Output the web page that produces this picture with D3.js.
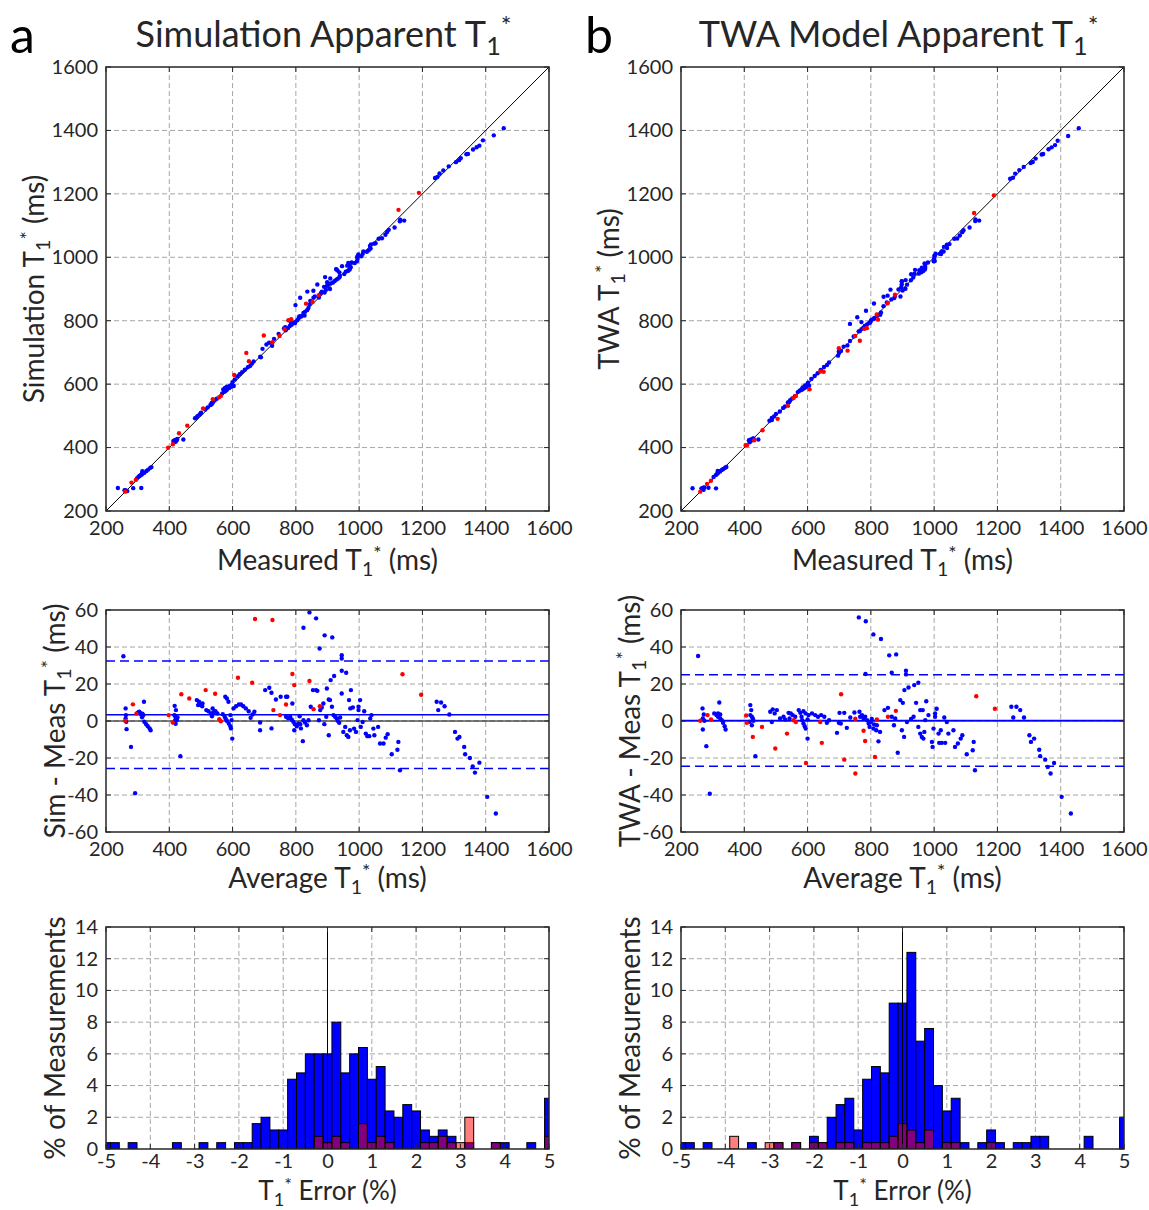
<!DOCTYPE html>
<html>
<head>
<meta charset="utf-8">
<script src="https://cdn.jsdelivr.net/npm/d3@7"></script>
<style>
  body { margin: 0; background: #fff; }
  svg { display: block; }
</style>
</head>
<body>
<svg id="fig" width="1149" height="1210"></svg>
<script>
// Bland-Altman points: [average T1* (ms), difference (ms)]
const simBlue = [
  [255,35],[262,6.8],[263,3.2],[262,1.4],[264,-0.4],[265,-4.4],[279,-14],[292,-39],
  [305,5],[308,4.4],[315,4],[318,3.2],[314,2],[320,10.4],[321,-0.4],[327,-1.7],[332,-2.8],[338,-4],[341,-5],[311,3.5],[300,4.5],
  [417,8.2],[421,5.9],[416,3.2],[419,2.3],[422,1.4],[424,0.5],[418,0.1],[426,1.9],[420,-1.5],[435,-19],
  [487,11.3],[494,10.4],[500,8.6],[504,8],[491,8.6],[505,9.5],
  [517,5.9],[524,5.3],[532,4.1],[535,2.6],[540,4.8],[546,5.3],[552,4.1],[537,6.8],
  [577,13.1],[582,12.2],[587,10.4],[569,3.7],[575,2.3],[578,1.2],[582,0.1],[588,-1.4],[593,-2.8],[595,-4],[599,-9.5],
  [597,0.5],[593,3.2],[603,6.8],[611,8],[620,8.9],[627,8.9],[634,8],[642,6.8],[651,5.3],[657,1.7],[663,3.5],[669,5],
  [687,-0.8],[687,-5],[703,16.7],[716,18],[723,15.3],[723,-4],[737,11.6],[752,13.1],[769,13.1],[773,13.1],
  [769,2.3],[776,1.4],[782,2.3],[787,0.8],[792,-0.4],[797,-1.7],[803,-2.8],[808,-1.4],[795,-5],[814,-1.7],[816,-4],[822,-10.9],[789,9.5],
  [843,58.7],[824,50.4],[864,55.5],[891,46.3],[915,45.2],[875,39.2],[945,35.6],[945,33.8],
  [812,2.6],[824,0.4],[829,-0.8],[835,-2.3],[840,0.4],[847,7.7],[854,16.7],[864,16.7],[868,16.3],[877,5.9],[882,7.3],[887,9.5],
  [873,0.4],[890,-1.7],[896,2.3],[898,17.6],[904,11.6],[908,11.3],[910,22.1],[921,24.3],[904,-7.7],[914,7.7],[919,3.2],
  [924,2.3],[929,1.4],[932,0.1],[937,-1],[940,1.9],[945,27.2],[959,26.1],[945,14.9],[950,-5.9],[956,-3.2],[961,-7.7],
  [966,-8.6],[971,-5],[968,11.3],[974,16.7],[972,6.8],[980,7.3],[984,-4.1],[990,-5.9],[995,0.5],[998,7.7],[998,5.9],
  [1003,11.3],[1005,-3.2],[1011,-0.5],[1016,5.3],[1021,-6.8],[1026,-8.2],[1032,-8.2],[1035,1.4],[1039,3.2],[1045,-4.1],
  [1048,-7.7],[1060,-3.2],[1066,-12.2],[1077,-12.2],[1084,-9],[1090,-7.1],[1103,-18],[1121,-15.5],[1124,-11.3],[1129,-26.6],
  [1245,10.4],[1250,5.9],[1259,10],[1270,8],[1285,3.5],[1303,-5.9],[1311,-9.5],[1317,-8.6],[1332,-14],[1335,-18],
  [1350,-20],[1359,-24.5],[1366,-27.9],[1380,-22.5],[1405,-41],[1432,-50]
];
const simRed = [
  [261,0.1],[285,9],[296,4],[398,3.2],[411,-0.8],[438,14.5],[463,12.2],[515,16.7],[545,14.7],[558,1],[563,-0.1],
  [617,23.4],[662,20.7],[671,55.1],[726,54.6],[729,5.9],[750,3.2],[769,8.9],[789,25.4],[795,19.4],[843,21.6],
  [856,6.4],[876,8],[1137,25.3],[1196,14.2]
];
const twaBlue = [
  [254,35.1],[268,6.8],[272,3.5],[269,1.4],[274,0.1],[269,-4.6],[280,-13.6],[291,-39.3],
  [305,4.1],[312,3.2],[317,2.3],[321,10],[324,1.4],[329,0.5],[333,-1],[338,-2.8],[341,-4.6],[317,4.1],[324,3.5],
  [419,8.6],[422,5.9],[419,3.2],[424,2.3],[427,1.4],[417,-0.4],[424,-2.3],[429,0.1],[435,-19],
  [482,5],[490,6.3],[496,4.1],[503,5.9],[487,-0.5],[513,1.4],[524,2.3],[529,0.8],[540,4.4],[547,4.1],[553,3.2],[561,2.3],[543,1.4],
  [572,5.9],[577,4.4],[581,2.3],[583,0.4],[587,-1.4],[591,-2.8],[594,-4.1],[600,-9.5],[600,0.8],[587,5.3],[594,4.1],
  [603,3.2],[614,4.1],[624,3.2],[633,2.3],[643,3.2],[653,2.3],
  [661,-1],[668,0.4],[693,-6.4],[699,-1],[701,4.4],[705,-1.4],[716,4.4],[724,-3.7],[735,1.9],[748,4.6],[764,5],[766,2.3],
  [772,3.2],[777,1.4],[782,2.3],[788,0.4],[793,-1.4],[796,-3.2],[800,-0.5],[803,1.1],[808,-4.1],[817,-5],[824,-11],
  [829,-5.9],[819,-2.3],[810,-1.9],
  [762,56],[784,53.9],[808,46.8],[832,44.3],[858,35.5],[880,36],[783,25.4],[866,26.1],[911,27.2],[911,25.2],
  [843,5.9],[854,7.1],[866,2.3],[873,-2.3],[877,1.4],[885,-17.2],[893,11.3],[901,9.8],[906,16.7],[919,18.1],[927,1.1],
  [935,2.3],[937,19.4],[950,20.7],[943,9.8],[898,-5],[905,-8.6],[914,-0.5],
  [956,5.9],[964,5.9],[950,-3.2],[956,-6.8],[961,-8.6],[966,-9.5],[969,-5.9],[975,10.7],[972,0.5],[982,3.2],[993,-11.3],
  [995,-14],[998,-4.1],[1003,4.1],[1003,2.3],[1008,6.6],[1014,-6.8],[1016,-11.8],[1021,-5],[1024,-11.8],[1032,1.9],
  [1035,-11.8],[1040,-0.5],[1045,-6.8],[1061,-5],[1066,-14],[1075,-12.2],[1084,-9.5],[1089,-7.7],[1103,-18],[1122,-15.8],
  [1125,-11.3],[1129,-26.6],
  [1244,7.7],[1250,1.9],[1260,7.7],[1272,5.9],[1284,1.9],[1301,-7.7],[1306,-11.3],[1316,-9.5],[1332,-15.5],[1335,-19],
  [1351,-20.9],[1359,-24.8],[1368,-28.4],[1379,-22.7],[1403,-41],[1432,-50]
];
const twaRed = [
  [261,0.1],[284,3.2],[295,0.8],[406,3],[408,-1],[427,-8.6],[456,-3.2],[498,-14.9],[535,-6.8],[556,0.4],[563,-0.5],
  [595,-22.7],[640,-0.5],[645,-11.8],[706,14.5],[716,-20.9],[751,-28.4],[751,1.2],[777,-5.3],[782,-10.8],[813,-19.4],
  [819,0.8],[854,2.3],[879,5.5],[1133,13.4],[1192,6.6]
];

// bias and limits of agreement (ms)
const simBias = 3.4, simLimits = [-25.7, 32.5];
const twaBias = 0.3, twaLimits = [-24.4, 25.0];

// histograms of T1* error, bins 0.2 % wide centred on -5 ... 5
const errCenters = d3.range(51).map(i => -5 + i * 0.2);
const histSimBlue = [0.4,0.4,0,0.4,0,0,0,0,0.4,0,0,0.4,0,0.4,0,0.4,0.4,1.6,2.0,1.2,1.2,4.4,4.8,6.0,6.0,6.0,
  8.0,4.8,6.0,6.4,4.4,5.2,2.4,2.0,2.8,2.4,1.2,0.8,1.2,0.8,0,0.4,0,0,0.4,0.4,0,0,0.4,0,3.2];
const histSimRed = [0,0,0,0,0,0,0,0,0,0,0,0,0,0,0,0,0,0,0,0,0,0,0,0,0.8,0.4,
  0.8,0.4,0,1.6,0.4,0.8,0.4,0,0,0,0.4,0.4,0.8,0.4,0.4,2.0,0,0,0.4,0,0,0,0,0,0.8];
const histTwaBlue = [0.4,0.4,0,0.4,0,0,0,0,0.4,0,0,0.4,0,0.4,0,0.8,0.4,2.0,2.8,3.2,1.2,4.4,5.2,4.8,9.2,9.2,
  12.4,6.8,7.6,4.0,2.4,3.2,0.4,0,0.4,1.2,0.4,0,0.4,0.4,0.8,0.8,0,0,0,0,0.8,0,0,0,2.0];
const histTwaRed = [0,0,0,0,0,0,0.8,0,0,0,0.4,0.4,0,0.4,0,0.4,0.4,0,0.4,0.4,0,0.4,0.4,0.4,0.8,1.6,
  1.2,0.4,1.2,0,0.4,0.4,0,0,0,0.4,0,0,0,0,0,0,0,0,0,0,0,0,0,0,0];

const t1Ticks = d3.range(200, 1601, 200);
const diffTicks = d3.range(-60, 61, 20);
const pctTicks = d3.range(0, 15, 2);
const errTicks = d3.range(-5, 6, 1);

// layout
const FONT = "Lato, 'Open Sans', sans-serif";
const INK = "#262626";
const BLUE = "#0000ff", RED = "#ff0000";
const W = 443;
const COLS = [106, 681];
const ROWS = { scatter: [67, 444], ba: [610, 222], hist: [927, 222] };
const TICK_FS = 20, LABEL_FS = 28;

const svg = d3.select("#fig").style("font-family", FONT);
let clipId = 0;

// Put "before T_1^* after" into a text element
function t1Text(text, before, after, size) {
  text.append("tspan").text(before + "T");
  text.append("tspan").attr("dy", size * 0.22).attr("font-size", size * 0.7).text("1");
  text.append("tspan").attr("dy", -size * 0.56).attr("font-size", size * 0.7).text("*");
  text.append("tspan").attr("dy", size * 0.34).text(after);
}

// Grid and clip area; frame and ticks come later so they sit on top
function makeAxes(left, top, h, xDomain, yDomain, xTicks, yTicks) {
  const g = svg.append("g").attr("transform", `translate(${left},${top})`);
  const x = d3.scaleLinear().domain(xDomain).range([0, W]);
  const y = d3.scaleLinear().domain(yDomain).range([h, 0]);

  const grid = g.append("g").attr("stroke", "#a6a6a6").attr("stroke-dasharray", "5,3").attr("stroke-width", 1);
  grid.selectAll(".gx").data(xTicks.slice(1, -1)).join("line")
    .attr("x1", d => x(d)).attr("x2", d => x(d)).attr("y1", 0).attr("y2", h);
  grid.selectAll(".gy").data(yTicks.slice(1, -1)).join("line")
    .attr("y1", d => y(d)).attr("y2", d => y(d)).attr("x1", 0).attr("x2", W);

  const id = "clip" + (clipId++);
  g.append("clipPath").attr("id", id).append("rect").attr("width", W).attr("height", h);
  const plot = g.append("g").attr("clip-path", `url(#${id})`);

  const front = g.append("g");
  return { g, x, y, h, plot, front, xTicks, yTicks };
}

function finishAxes(ax, pad) {
  const { front, x, y, h, xTicks, yTicks } = ax;
  const tl = 5;
  const tk = front.append("g").attr("stroke", INK).attr("stroke-width", 1);
  xTicks.forEach(v => {
    tk.append("line").attr("x1", x(v)).attr("x2", x(v)).attr("y1", h).attr("y2", h - tl);
    tk.append("line").attr("x1", x(v)).attr("x2", x(v)).attr("y1", 0).attr("y2", tl);
  });
  yTicks.forEach(v => {
    tk.append("line").attr("y1", y(v)).attr("y2", y(v)).attr("x1", 0).attr("x2", tl);
    tk.append("line").attr("y1", y(v)).attr("y2", y(v)).attr("x1", W).attr("x2", W - tl);
  });
  front.append("rect").attr("width", W).attr("height", h)
    .attr("fill", "none").attr("stroke", INK).attr("stroke-width", 1.5);

  const plain = d => String(d);
  front.append("g").attr("transform", `translate(0,${h})`)
    .call(d3.axisBottom(x).tickValues(xTicks).tickFormat(plain).tickSize(0).tickPadding(pad))
    .call(s => s.select(".domain").remove())
    .selectAll("text").attr("font-size", TICK_FS).attr("font-family", FONT).attr("fill", INK);
  front.append("g")
    .call(d3.axisLeft(y).tickValues(yTicks).tickFormat(plain).tickSize(0).tickPadding(8))
    .call(s => s.select(".domain").remove())
    .selectAll("text").attr("font-size", TICK_FS).attr("font-family", FONT).attr("fill", INK);
}

function xLabel(ax, dy, before, after, fs = LABEL_FS) {
  const t = ax.front.append("text").attr("x", W / 2).attr("y", ax.h + dy)
    .attr("text-anchor", "middle").attr("font-size", fs).attr("fill", INK);
  if (before === null) t.text(after); else t1Text(t, before, after, fs);
}

function yLabel(ax, dx, before, after) {
  const t = ax.front.append("text")
    .attr("transform", `translate(${-dx},${ax.h / 2}) rotate(-90)`)
    .attr("text-anchor", "middle").attr("font-size", LABEL_FS).attr("fill", INK);
  if (before === null) t.text(after); else t1Text(t, before, after, LABEL_FS);
}

function dots(ax, pts, color, fx, fy) {
  ax.plot.append("g").selectAll("circle").data(pts).join("circle")
    .attr("cx", d => ax.x(fx(d))).attr("cy", d => ax.y(fy(d))).attr("r", 2.2).attr("fill", color);
}

const measOf = d => d[0] - d[1] / 2;
const modelOf = d => d[0] + d[1] / 2;

const panels = [
  { col: COLS[0], letter: "a", title: "Simulation Apparent ", yName: "Simulation ", baName: "Sim - Meas ",
    blue: simBlue, red: simRed, bias: simBias, limits: simLimits, hb: histSimBlue, hr: histSimRed },
  { col: COLS[1], letter: "b", title: "TWA Model Apparent ", yName: "TWA ", baName: "TWA - Meas ",
    blue: twaBlue, red: twaRed, bias: twaBias, limits: twaLimits, hb: histTwaBlue, hr: histTwaRed }
];

panels.forEach(p => {
  // panel letter and title
  svg.append("text").attr("x", p.col - 96).attr("y", 53).attr("font-size", 50).attr("fill", "#000").text(p.letter);
  const tt = svg.append("text").attr("x", p.col + W / 2 - 4).attr("y", 47)
    .attr("text-anchor", "middle").attr("font-size", 36).attr("fill", INK);
  t1Text(tt, p.title, "", 36);

  // scatter: model vs measured
  const sc = makeAxes(p.col, ROWS.scatter[0], ROWS.scatter[1], [200, 1600], [200, 1600], t1Ticks, t1Ticks);
  sc.plot.append("line").attr("x1", sc.x(200)).attr("y1", sc.y(200)).attr("x2", sc.x(1600)).attr("y2", sc.y(1600))
    .attr("stroke", "#000").attr("stroke-width", 1);
  dots(sc, p.blue, BLUE, measOf, modelOf);
  dots(sc, p.red, RED, measOf, modelOf);
  finishAxes(sc, 10);
  xLabel(sc, 59, "Measured ", " (ms)");
  yLabel(sc, 62, p.yName, " (ms)");

  // Bland-Altman
  const ba = makeAxes(p.col, ROWS.ba[0], ROWS.ba[1], [200, 1600], [-60, 60], t1Ticks, diffTicks);
  ba.plot.append("line").attr("x1", 0).attr("x2", W).attr("y1", ba.y(0)).attr("y2", ba.y(0))
    .attr("stroke", "#000").attr("stroke-width", 1);
  ba.plot.append("line").attr("x1", 0).attr("x2", W).attr("y1", ba.y(p.bias)).attr("y2", ba.y(p.bias))
    .attr("stroke", BLUE).attr("stroke-width", 1.5);
  ba.plot.selectAll(".loa").data(p.limits).join("line")
    .attr("x1", 0).attr("x2", W).attr("y1", d => ba.y(d)).attr("y2", d => ba.y(d))
    .attr("stroke", BLUE).attr("stroke-width", 1.5).attr("stroke-dasharray", "9,5");
  dots(ba, p.blue, BLUE, d => d[0], d => d[1]);
  dots(ba, p.red, RED, d => d[0], d => d[1]);
  finishAxes(ba, 10);
  xLabel(ba, 56, "Average ", " (ms)");
  yLabel(ba, 41, p.baName, " (ms)");

  // histogram of errors
  const hi = makeAxes(p.col, ROWS.hist[0], ROWS.hist[1], [-5, 5], [0, 14], errTicks, pctTicks);
  const bars = (vals, fill, op) => hi.plot.append("g").selectAll("rect")
    .data(errCenters.map((c, i) => ({ c, v: vals[i] })).filter(d => d.v > 0)).join("rect")
    .attr("x", d => hi.x(d.c - 0.1)).attr("width", hi.x(0.2) - hi.x(0))
    .attr("y", d => hi.y(d.v)).attr("height", d => hi.y(0) - hi.y(d.v))
    .attr("fill", fill).attr("fill-opacity", op).attr("stroke", "#000").attr("stroke-width", 1);
  bars(p.hb, BLUE, 1);
  bars(p.hr, RED, 0.5);
  hi.plot.append("line").attr("x1", hi.x(0)).attr("x2", hi.x(0)).attr("y1", hi.y(0)).attr("y2", hi.y(14))
    .attr("stroke", "#000").attr("stroke-width", 1);
  finishAxes(hi, 5);
  xLabel(hi, 51, "", " Error (%)", 26);
  yLabel(hi, 41, null, "% of Measurements");
});
</script>
</body>
</html>
